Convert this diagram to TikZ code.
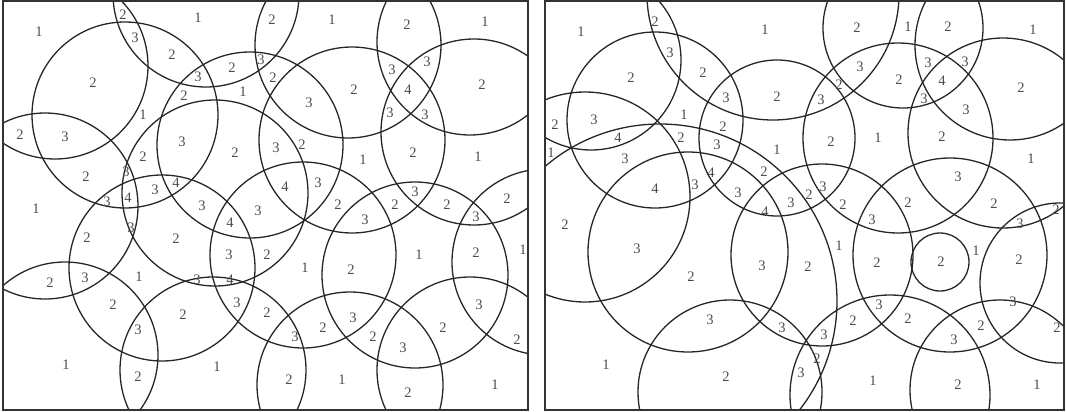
\documentclass[tikz,border=0pt]{standalone}
\usepackage{fontspec}
\setmainfont{Liberation Serif}
\begin{document}
\begin{tikzpicture}[x=1pt,y=-1pt,
  circ/.style={draw=black!85, line width=1.3pt},
  frame/.style={draw=black!80, line width=1.1pt},
  num/.style={text=black!70, font=\fontsize{14.5}{14.5}\selectfont, inner sep=0pt}]
\path[use as bounding box] (0,0) rectangle (1066,412);
% ---------------- left panel ----------------
\begin{scope}
\clip (3,1) rectangle (528,410);
\foreach \cx/\cy in {206/-6, 55/66, 125/115, 45/206, 162/268, 65/355, 213/370, 250/145, 215/193, 348/45, 352/140, 470/42, 474/132, 303/255, 415/275, 545/262, 470/370, 350/385}
  \draw[circ] (\cx,\cy) circle[radius=93pt];
\end{scope}
\draw[frame] (3,1) rectangle (528,410);
\foreach \x/\y/\t [count=\i] in {39/32/1, 123/15/2, 135/38/3, 172/55/2, 93/83/2, 143/115/1, 20/135/2, 65/137/3, 143/157/2, 126/172/3, 86/177/2, 107/202/3, 128/198/4, 155/190/3, 176/183/4, 36/209/1,
 198/18/1, 272/20/2, 332/20/1, 198/77/3, 232/68/2, 261/60/3, 273/78/2, 243/92/1, 184/96/2, 309/103/3, 182/142/3, 235/153/2, 276/148/3, 302/145/2, 285/187/4, 318/183/3, 202/206/3, 258/211/3, 338/205/2,
 407/25/2, 485/22/1, 427/62/3, 392/70/3, 482/85/2, 354/90/2, 408/90/4, 390/113/3, 425/115/3, 363/160/1, 413/153/2, 478/157/1, 415/192/3, 395/205/2, 447/205/2, 507/199/2,
 230/223/4, 87/238/2, 131/228/3, 176/239/2, 229/255/3, 267/255/2, 50/283/2, 85/278/3, 139/277/1, 197/280/3, 230/280/4, 113/305/2, 237/303/3, 267/313/2, 138/330/3, 183/315/2, 66/365/1, 217/367/1, 138/377/2,
 365/220/3, 476/217/3, 305/268/1, 351/270/2, 419/255/1, 476/253/2, 523/250/1, 353/318/3, 479/305/3, 295/337/3, 323/328/2, 373/337/2, 403/348/3, 443/328/2, 517/340/2, 289/380/2, 342/380/1, 408/393/2, 495/385/1}
  \node[num] (a\i) at (\x,\y) {\t};
% ---------------- right panel ----------------
\begin{scope}
\clip (545,1) rectangle (1064,410);
\foreach \cx/\cy/\r in {591/60/90, 655/120/88, 773/-6/126, 777/138/78, 903/28/80, 898/138/95, 1003/133/95, 1010/45/95, 585/197/105, 688/252/100, 730/392/92, 950/255/97, 940/262/29, 1060/283/80, 890/395/100, 1000/390/90, 822/255/91, 660/301/177}
  \draw[circ] (\cx,\cy) circle[radius=\r pt];
\end{scope}
\draw[frame] (545,1) rectangle (1064,410);
\foreach \x/\y/\t [count=\i] in {581/32/1, 655/22/2, 765/30/1, 670/53/3, 631/78/2, 703/73/2, 777/97/2, 726/98/3, 555/125/2, 594/120/3, 684/115/1, 723/127/2, 618/138/4, 681/138/2, 717/145/3, 777/150/1, 551/153/1, 625/159/3, 764/172/2, 711/173/4, 655/189/4, 695/185/3, 738/193/3, 791/203/3,
 857/28/2, 908/27/1, 948/27/2, 1033/30/1, 860/67/3, 899/80/2, 928/63/3, 965/62/3, 942/81/4, 839/85/2, 821/100/3, 924/99/3, 966/110/3, 1021/88/2, 831/142/2, 878/138/1, 942/137/2, 1031/159/1, 958/177/3, 823/187/3, 809/195/2, 843/205/2, 908/203/2, 994/204/2, 1056/210/2,
 565/225/2, 637/249/3, 691/277/2, 765/212/4, 762/266/3, 808/267/2, 710/320/3, 782/328/3, 606/365/1, 726/377/2, 801/373/3,
 872/220/3, 1020/224/3, 839/246/1, 877/263/2, 941/262/2, 976/251/1, 1019/260/2, 879/305/3, 853/321/2, 908/319/2, 1013/302/3, 1057/328/2, 824/335/3, 954/340/3, 981/326/2, 817/359/2, 873/381/1, 958/385/2, 1037/385/1}
  \node[num] (b\i) at (\x,\y) {\t};
\end{tikzpicture}
\end{document}
